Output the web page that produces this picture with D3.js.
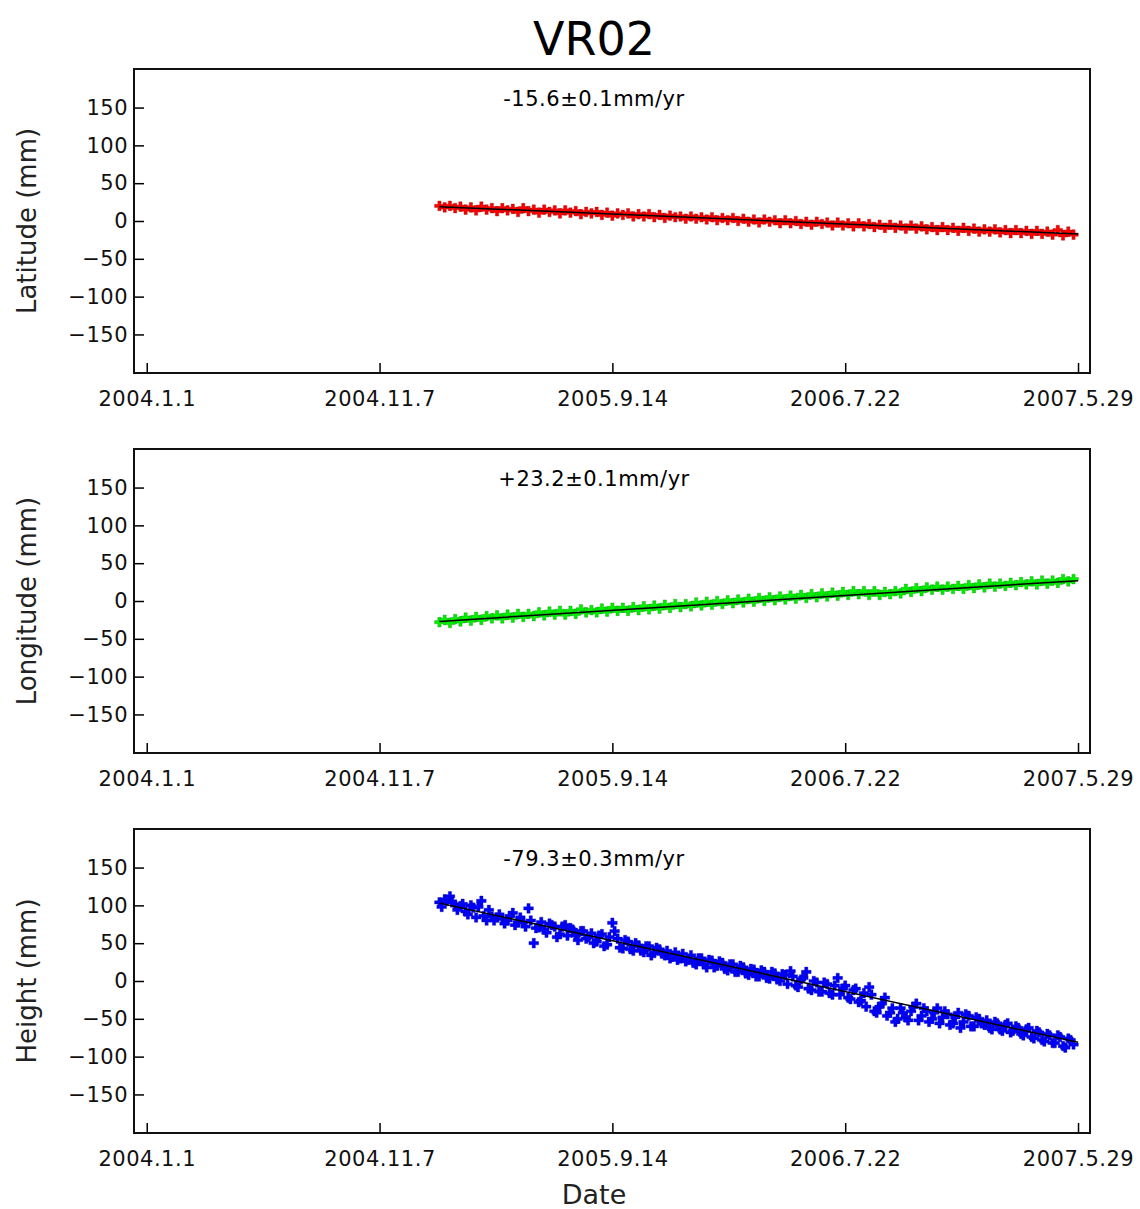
<!DOCTYPE html>
<html>
  <head>
    <meta charset="utf-8">
    <title>VR02</title>
    <script src="https://cdn.jsdelivr.net/npm/d3@7"></script>
    <style>
      body { margin: 0; background: #fff; }
      svg { display: block; font-family: "DejaVu Sans", sans-serif; }
      .tick text { font-size: 21px; letter-spacing: 0.5px; fill: #111; }
      .tick line { stroke: #000; stroke-width: 1.5; }
      .domain { display: none; }
      .frame { fill: none; stroke: #111; stroke-width: 2; }
    </style>
  </head>

  <body>
    <svg id="chart" width="1140" height="1209"></svg>

    <script>
      // chart values
      station = "VR02";
      tickLabels = ["2004.1.1", "2004.11.7", "2005.9.14", "2006.7.22", "2007.5.29"];
      yTicks = [-150, -100, -50, 0, 50, 100, 150];
      firstDay = "2005-01-26";   // first observation
      stepDays = 7;              // one sample a week
      lastDay = "2007-05-29";

      latitude = [20, 18, 20, 17, 19, 15, 18, 14, 19, 15, 17, 13, 17, 14, 16, 12, 17, 13, 15, 11,
        15, 12, 14, 10, 14, 11, 13, 9, 12, 10, 12, 8, 11, 7, 10, 8, 10, 6, 9, 6,
        9, 5, 8, 4, 7, 5, 6, 3, 6, 3, 5, 2, 5, 1, 4, 1, 4, 0, 3, -1,
        2, -2, 2, -1, 1, -3, 1, -3, 0, -4, -1, -5, -1, -4, -2, -6, -2, -6, -3, -7,
        -3, -7, -4, -8, -5, -9, -5, -9, -6, -10, -6, -10, -7, -11, -8, -12, -8, -12, -9, -13,
        -9, -13, -10, -14, -11, -14, -11, -15, -12, -16, -12, -16, -13, -17, -13, -17, -14, -18, -12, -19,
        -14, -18];
      longitude = [-28, -25, -29, -24, -27, -22, -26, -21, -25, -20, -23, -19, -23, -18, -22, -17, -21, -17, -20, -15,
        -19, -14, -18, -13, -18, -13, -17, -11, -15, -12, -15, -10, -14, -9, -13, -9, -13, -8, -12, -7,
        -11, -6, -10, -5, -9, -4, -8, -4, -7, -2, -6, -1, -5, 0, -4, 1, -3, 2, -2, 3,
        -1, 4, 0, 5, 1, 6, 2, 7, 3, 8, 4, 9, 5, 10, 6, 11, 7, 12, 8, 13,
        9, 13, 8, 13, 8, 12, 9, 13, 10, 16, 12, 17, 13, 18, 15, 19, 15, 19, 16, 20,
        16, 21, 17, 22, 18, 23, 19, 23, 20, 24, 21, 25, 22, 26, 22, 27, 23, 27, 24, 29,
        26, 29];
      height = [104, 108, 112, 101, 99, 92, 100, 84, 106, 80, 85, 84, 82, 80, 90, 77, 78, 96, 50, 71,
        68, 76, 72, 62, 74, 70, 60, 66, 56, 63, 52, 62, 48, 77, 56, 43, 52, 40, 47, 38,
        46, 37, 42, 34, 30, 38, 30, 26, 34, 22, 30, 18, 27, 20, 24, 14, 22, 12, 18, 8,
        15, 6, 12, 3, 10, 0, 8, 13, -6, 2, 12, -12, -2, -14, -4, -18, 4, -10, -22, -12,
        -28, -16, -8, -40, -34, -22, -42, -54, -36, -48, -40, -30, -46, -40, -50, -36, -48, -44, -56, -42,
        -54, -46, -60, -50, -58, -62, -54, -64, -58, -68, -60, -70, -64, -74, -66, -78, -70, -82, -72, -86,
        -76, -84];
      // height has about twice as many points, these sit three days after each weekly one
      heightMid = [98, 106, 104, 94, 102, 88, 97, 98, 86, 94, 80, 88, 76, 86, 74, 84, 72, 80, 70, 78,
        64, 74, 58, 72, 60, 68, 54, 66, 58, 50, 60, 46, 58, 66, 44, 54, 42, 50, 40, 46,
        34, 44, 36, 40, 32, 28, 36, 28, 24, 30, 22, 28, 18, 26, 16, 22, 12, 20, 10, 16,
        6, 14, 4, 12, 2, 9, -4, 6, -8, 4, -10, 0, -14, -2, -16, -6, -18, -6, -24, -10,
        -26, -34, -18, -42, -30, -46, -36, -50, -42, -52, -34, -52, -36, -54, -42, -56, -40, -58, -48, -62,
        -44, -60, -48, -56, -52, -64, -56, -66, -56, -66, -62, -72, -62, -76, -68, -80, -72, -82, -74, -88,
        -78];
      midOffset = 3;

      // trend fits: value at first and last day
      latitudeTrend = [19, -17.2];
      longitudeTrend = [-27, 26.9];
      heightTrend = [103, -81];
      rates = ["-15.6\u00b10.1mm/yr", "+23.2\u00b10.1mm/yr", "-79.3\u00b10.3mm/yr"];

      panels = [
        {label: "Latitude (mm)", series: [latitude], trend: latitudeTrend, rate: rates[0], colour: "#ff0000"},
        {label: "Longitude (mm)", series: [longitude], trend: longitudeTrend, rate: rates[1], colour: "#00f000"},
        {label: "Height (mm)", series: [height, heightMid], trend: heightTrend, rate: rates[2], colour: "#0000ff"}
      ];

      // layout
      const left = 134;
      const right = 1090;
      const panelTop = 69;
      const panelHeight = 304;
      const panelGap = 380;
      const centre = 594;

      const parseDay = d3.utcParse("%Y-%m-%d");
      const tickDates = tickLabels.map(function(s) {
        return d3.utcParse("%Y.%-m.%-d")(s);
      });
      const start = parseDay(firstDay);
      function dayOf(i, s) {
        return d3.utcDay.offset(start, i * stepDays + s * midOffset);
      }

      const x = d3.scaleUtc()
        .domain([parseDay("2003-12-15"), parseDay("2007-06-14")])
        .range([left, right]);

      const svg = d3.select("#chart");

      svg.append("text")
        .attr("x", centre)
        .attr("y", 55)
        .attr("text-anchor", "middle")
        .style("font-size", "46px")
        .text(station);

      const marker = d3.symbol().type(d3.symbolCross).size(52);

      panels.forEach(function(p, k) {
        const panelY = panelTop + k * panelGap;
        const y = d3.scaleLinear()
          .domain([-201, 201])
          .range([panelY + panelHeight, panelY]);
        const g = svg.append("g");

        // points
        p.series.forEach(function(values, s) {
          g.append("g")
            .selectAll("path")
            .data(values)
          .enter().append("path")
            .attr("transform", function(d, i) {
              return "translate(" + x(dayOf(i, s)) + "," + y(d) + ")";
            })
            .attr("d", marker)
            .attr("fill", p.colour)
            .attr("stroke", d3.color(p.colour).darker(1.5))
            .attr("stroke-width", 0.6)
            .attr("stroke-opacity", 0.6);
        });

        // trend line
        g.append("line")
          .attr("x1", x(start))
          .attr("y1", y(p.trend[0]))
          .attr("x2", x(parseDay(lastDay)))
          .attr("y2", y(p.trend[1]))
          .attr("stroke", "#000")
          .attr("stroke-width", 1.5);

        // axes, ticks pointing inward
        g.append("g")
          .attr("transform", "translate(0," + (panelY + panelHeight) + ")")
          .call(d3.axisBottom(x)
            .tickValues(tickDates)
            .tickFormat(function(d, i) { return tickLabels[i]; })
            .tickSizeInner(-10)
            .tickSizeOuter(0)
            .tickPadding(18))
          .attr("font-family", null)
          .attr("font-size", null);
        g.append("g")
          .attr("transform", "translate(" + left + ",0)")
          .call(d3.axisLeft(y)
            .tickValues(yTicks)
            .tickSizeInner(-10)
            .tickSizeOuter(0)
            .tickPadding(6))
          .attr("font-family", null)
          .attr("font-size", null);

        g.append("rect")
          .attr("class", "frame")
          .attr("x", left)
          .attr("y", panelY)
          .attr("width", right - left)
          .attr("height", panelHeight);

        g.append("text")
          .attr("x", centre)
          .attr("y", panelY + 37)
          .attr("text-anchor", "middle")
          .style("font-size", "21px")
          .style("letter-spacing", "0.5px")
          .text(p.rate);

        g.append("text")
          .attr("transform", "translate(36," + (panelY + panelHeight / 2) + ") rotate(-90)")
          .attr("text-anchor", "middle")
          .style("font-size", "26px")
          .style("fill", "#222")
          .text(p.label);
      });

      svg.append("text")
        .attr("x", centre)
        .attr("y", 1204)
        .attr("text-anchor", "middle")
        .style("font-size", "27px")
        .style("fill", "#222")
        .text("Date");
    </script>
  </body>
</html>
